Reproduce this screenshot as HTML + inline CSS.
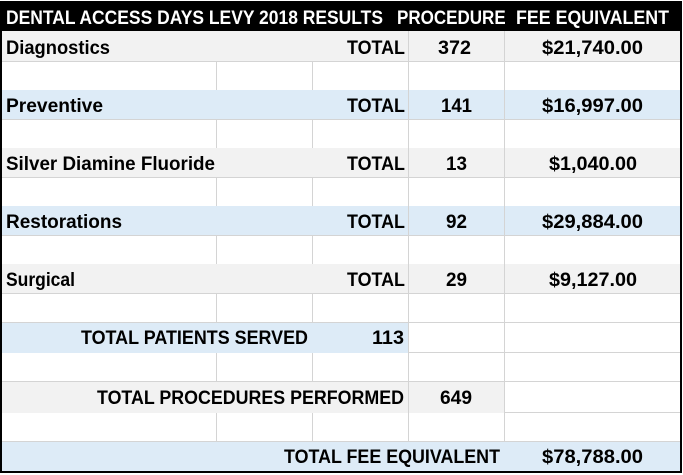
<!DOCTYPE html>
<html><head><meta charset="utf-8"><style>
html,body{margin:0;padding:0;background:#fff;}
svg{display:block;}
text{font-family:"Liberation Sans",sans-serif;font-weight:bold;font-size:19px;fill:#000;}
</style></head><body>
<svg width="683" height="475" viewBox="0 0 683 475" xmlns="http://www.w3.org/2000/svg">
<defs><clipPath id="procClip"><rect x="390" y="0" width="115" height="40"/></clipPath></defs>
<rect x="2" y="31" width="679" height="30" fill="#f2f2f2"/>
<rect x="2" y="90" width="679" height="30" fill="#ddebf7"/>
<rect x="2" y="148" width="679" height="30" fill="#f2f2f2"/>
<rect x="2" y="206" width="679" height="30" fill="#ddebf7"/>
<rect x="2" y="264" width="679" height="30" fill="#f2f2f2"/>
<rect x="2" y="322" width="406" height="31" fill="#ddebf7"/>
<rect x="2" y="382" width="502" height="31" fill="#f2f2f2"/>
<rect x="2" y="442" width="679" height="29" fill="#ddebf7"/>
<g stroke="#d4d4d4" stroke-width="1">
<line x1="216.5" y1="61" x2="216.5" y2="90"/><line x1="216.5" y1="120" x2="216.5" y2="148"/>
<line x1="216.5" y1="178" x2="216.5" y2="206"/><line x1="216.5" y1="236" x2="216.5" y2="264"/>
<line x1="216.5" y1="294" x2="216.5" y2="322"/><line x1="216.5" y1="353" x2="216.5" y2="382"/>
<line x1="216.5" y1="413" x2="216.5" y2="442"/>
<line x1="312.5" y1="61" x2="312.5" y2="90"/><line x1="312.5" y1="120" x2="312.5" y2="148"/>
<line x1="312.5" y1="178" x2="312.5" y2="206"/><line x1="312.5" y1="236" x2="312.5" y2="264"/>
<line x1="312.5" y1="294" x2="312.5" y2="322"/><line x1="312.5" y1="353" x2="312.5" y2="382"/>
<line x1="312.5" y1="413" x2="312.5" y2="442"/>
<line x1="408.5" y1="31" x2="408.5" y2="442"/>
<line x1="504.5" y1="31" x2="504.5" y2="442"/>
<line x1="2" y1="61.5" x2="681" y2="61.5"/><line x1="2" y1="119.5" x2="681" y2="119.5"/>
<line x1="2" y1="177.5" x2="681" y2="177.5"/><line x1="2" y1="235.5" x2="681" y2="235.5"/>
<line x1="2" y1="293.5" x2="681" y2="293.5"/><line x1="2" y1="322.5" x2="681" y2="322.5"/>
<line x1="408" y1="352.5" x2="681" y2="352.5"/><line x1="2" y1="381.5" x2="681" y2="381.5"/>
<line x1="504" y1="412.5" x2="681" y2="412.5"/><line x1="2" y1="441.5" x2="681" y2="441.5"/>
</g>
<rect x="1" y="2" width="679" height="29" fill="#000"/>
<rect x="1" y="2" width="680" height="470" fill="none" stroke="#000" stroke-width="2"/>
<text x="6" y="24" textLength="377" lengthAdjust="spacingAndGlyphs" style="fill:#fff">DENTAL ACCESS DAYS LEVY 2018 RESULTS</text>
<g clip-path="url(#procClip)">
<text x="397" y="24" textLength="120" lengthAdjust="spacingAndGlyphs" style="fill:#fff">PROCEDURES</text>
</g>
<text x="516" y="24" textLength="153" lengthAdjust="spacingAndGlyphs" style="fill:#fff">FEE EQUIVALENT</text>

<text x="6" y="54" textLength="104" lengthAdjust="spacingAndGlyphs">Diagnostics</text>
<text x="347" y="54" textLength="58" lengthAdjust="spacingAndGlyphs">TOTAL</text>
<text x="438" y="54" textLength="33" lengthAdjust="spacingAndGlyphs">372</text>
<text x="542" y="54" textLength="101" lengthAdjust="spacingAndGlyphs">$21,740.00</text>

<text x="6" y="112" textLength="97" lengthAdjust="spacingAndGlyphs">Preventive</text>
<text x="347" y="112" textLength="58" lengthAdjust="spacingAndGlyphs">TOTAL</text>
<text x="441" y="112" textLength="31" lengthAdjust="spacingAndGlyphs">141</text>
<text x="542" y="112" textLength="101" lengthAdjust="spacingAndGlyphs">$16,997.00</text>

<text x="6" y="170" textLength="209" lengthAdjust="spacingAndGlyphs">Silver Diamine Fluoride</text>
<text x="347" y="170" textLength="58" lengthAdjust="spacingAndGlyphs">TOTAL</text>
<text x="446" y="170" textLength="21" lengthAdjust="spacingAndGlyphs">13</text>
<text x="549" y="170" textLength="88" lengthAdjust="spacingAndGlyphs">$1,040.00</text>

<text x="6" y="228" textLength="116" lengthAdjust="spacingAndGlyphs">Restorations</text>
<text x="347" y="228" textLength="58" lengthAdjust="spacingAndGlyphs">TOTAL</text>
<text x="446" y="228" textLength="21" lengthAdjust="spacingAndGlyphs">92</text>
<text x="542" y="228" textLength="101" lengthAdjust="spacingAndGlyphs">$29,884.00</text>

<text x="6" y="286" textLength="69" lengthAdjust="spacingAndGlyphs">Surgical</text>
<text x="347" y="286" textLength="58" lengthAdjust="spacingAndGlyphs">TOTAL</text>
<text x="446" y="286" textLength="21" lengthAdjust="spacingAndGlyphs">29</text>
<text x="549" y="286" textLength="88" lengthAdjust="spacingAndGlyphs">$9,127.00</text>

<text x="81" y="344" textLength="227" lengthAdjust="spacingAndGlyphs">TOTAL PATIENTS SERVED</text>
<text x="372" y="344" textLength="32" lengthAdjust="spacingAndGlyphs">113</text>

<text x="97" y="404" textLength="307" lengthAdjust="spacingAndGlyphs">TOTAL PROCEDURES PERFORMED</text>
<text x="440" y="404" textLength="32" lengthAdjust="spacingAndGlyphs">649</text>

<text x="284" y="463" textLength="216" lengthAdjust="spacingAndGlyphs">TOTAL FEE EQUIVALENT</text>
<text x="542" y="463" textLength="101" lengthAdjust="spacingAndGlyphs">$78,788.00</text>
</svg>
</body></html>
